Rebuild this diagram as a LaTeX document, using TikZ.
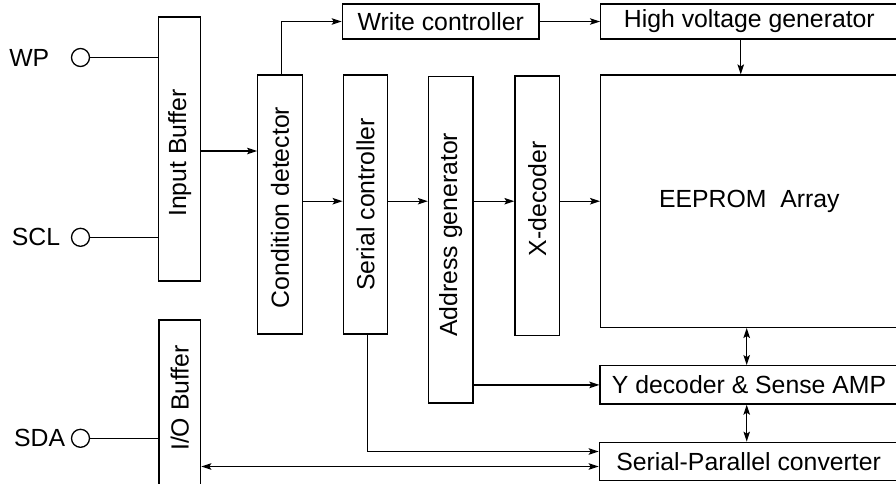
\documentclass[tikz,border=0pt]{standalone}
\usepackage{fontspec}
\setmainfont{Liberation Sans}
\usetikzlibrary{arrows.meta, positioning, calc}

\begin{document}
\begin{tikzpicture}[
            x=1pt, y=-1pt,
            font=\fontsize{24.8}{28}\selectfont,
            line width=1.3pt,
            box/.style={rectangle, draw, inner sep=0pt},
            vbox/.style={box, minimum width=44.5pt},
            pad/.style={circle, draw, minimum size=18pt, inner sep=0pt},
            arrow/.style={-{Stealth[length=10pt, width=6.5pt, inset=2pt]}},
            dblarrow/.style={{Stealth[length=10pt, width=6.5pt, inset=2pt]}-{Stealth[length=10pt, width=6.5pt, inset=2pt]}},
            every label/.style={inner sep=0pt}
        ]
            \useasboundingbox (0,0) rectangle (896,483);
            \clip (0,0) rectangle (896,483);

            % pins
            \node[pad, label={[label distance=21pt]left:WP}] (wp) at (80.5,57.5) {};
            \node[pad, label={[label distance=10pt]left:SCL}] (scl) at (80.5,237.3) {};
            \node[pad, label={[label distance=5pt]left:SDA}] (sda) at (80.5,438.3) {};

            % buffers
            \node[box, minimum width=42pt, minimum height=264pt,
                  label={[yshift=-4pt, rotate=90]center:Input Buffer}] (inbuf) at (179.7,149) {};
            \node[box, minimum width=41.7pt, minimum height=175pt,
                  label={[yshift=9.5pt, rotate=90]center:I/O Buffer}] (iobuf) at (179.85,407.5) {};

            % vertical blocks
            \node[vbox, minimum height=259pt,
                  label={[yshift=-3pt, rotate=90]center:Condition detector}] (cond) at (280,204.5) {};
            \node[vbox, minimum height=259pt,
                  label={[rotate=90]center:Serial controller}] (serial) at (365.5,204.5) {};
            \node[vbox, minimum height=326.3pt,
                  label={[yshift=5pt, rotate=90]center:Address generator}] (addr) at (450.8,239.8) {};
            \node[vbox, minimum height=259.7pt,
                  label={[yshift=7pt, rotate=90]center:X-decoder}] (xdec) at (537.3,205.8) {};

            % wide blocks
            \node[box, minimum width=196.7pt, minimum height=35pt] (wctl) at (440.7,21.5) {Write controller};
            \node[box, minimum width=297.3pt, minimum height=35pt] (hvg) at (749.35,21.5) {High voltage generator};
            \node[box, minimum width=297.3pt, minimum height=252.3pt] (eeprom) at (749.35,201.2) {EEPROM\ \ Array};
            \node[box, minimum width=298pt, minimum height=38.3pt] (ydec) at (749,384.9) {Y decoder \& Sense AMP};
            \node[box, minimum width=298.7pt, minimum height=38.4pt] (spc) at (748.65,461.5) {Serial-Parallel converter};
            \coordinate (col) at (746.7,0);

            \draw (wp) -- (wp -| inbuf.west);
            \draw (scl) -- (scl -| inbuf.west);
            \draw (sda) -- (sda -| iobuf.west);
            \draw[arrow] ([yshift=-2pt]inbuf.east) -- ([yshift=-2pt]inbuf.east -| cond.west);
            \draw[arrow] ([xshift=1.7pt]cond.north) |- (wctl.west);
            \draw[arrow] (wctl.east) -- (hvg.west);
            \draw[arrow] ([xshift=-8.6pt]hvg.south) -- ([xshift=-8.6pt]hvg.south |- eeprom.north);
            \foreach \a/\b in {cond/serial, serial/addr, addr/xdec, xdec/eeprom}
                \draw[arrow] (\a.east |- eeprom.west) -- (\b.west |- eeprom.west);
            \draw[arrow] (addr.east |- ydec.west) -- (ydec.west);
            \draw[dblarrow] (eeprom.south -| col) -- (ydec.north -| col);
            \draw[dblarrow] (ydec.south -| col) -- (spc.north -| col);
            \draw[arrow] ([xshift=2pt]serial.south) |- ([yshift=10pt]spc.west);
            \draw[dblarrow] ([yshift=-5pt]spc.west -| iobuf.east) -- ([yshift=-5pt]spc.west);
        \end{tikzpicture}
\end{document}
